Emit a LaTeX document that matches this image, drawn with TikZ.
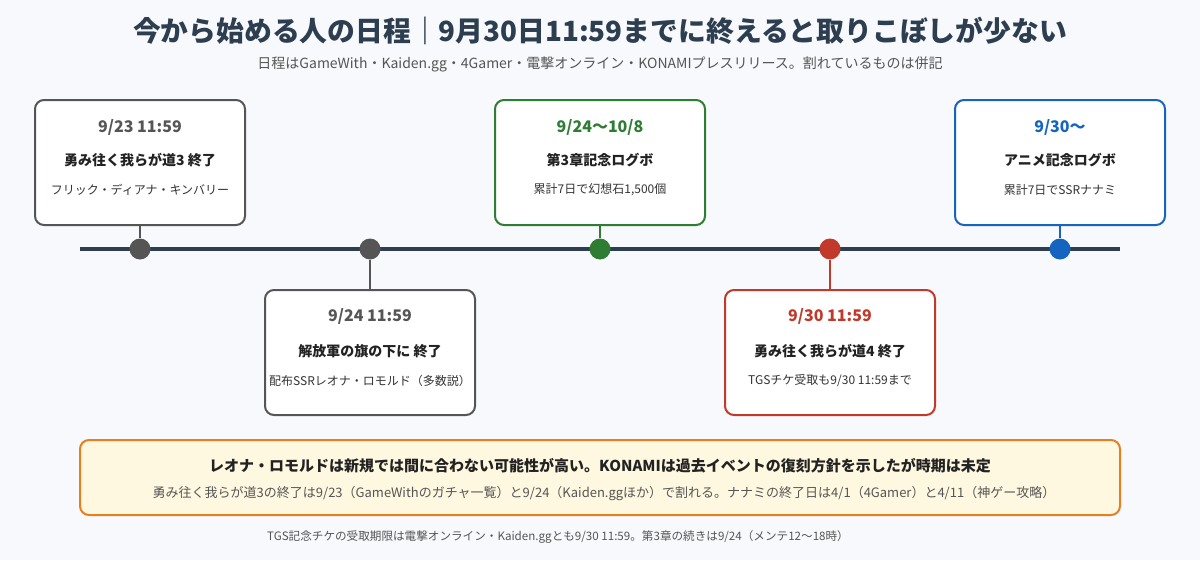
\documentclass[tikz,border=0pt]{standalone}
\usepackage{fontspec}
\setmainfont{Noto Sans CJK JP}
\definecolor{bg}{HTML}{F7F9FC}
\definecolor{navy}{HTML}{2C3E50}
\definecolor{evgray}{HTML}{555555}
\definecolor{evgreen}{HTML}{2E7D32}
\definecolor{evred}{HTML}{C0392B}
\definecolor{evblue}{HTML}{1565C0}
\definecolor{orng}{HTML}{E67E22}
\definecolor{notefill}{HTML}{FFF8E1}
\definecolor{txtdark}{HTML}{222222}
\definecolor{txtmid}{HTML}{333333}
\definecolor{txtgray}{HTML}{555555}
\tikzset{
  fs/.style={font=\fontsize{#1}{#1}\selectfont},
  evbox/.style={draw=#1, line width=2pt, rounded corners=9pt, fill=white, minimum width=210pt, minimum height=125pt, inner sep=0pt},
  datet/.style={font=\fontsize{16}{18}\selectfont\bfseries, text=#1, inner sep=0pt},
  ttlt/.style={font=\fontsize{14}{16}\selectfont\bfseries, text=txtdark, inner sep=0pt},
  desct/.style={font=\fontsize{12}{14}\selectfont, text=txtmid, inner sep=0pt},
  evdot/.style={circle, fill=#1, minimum size=21pt, inner sep=0pt},
  conn/.style={draw=#1, line width=2pt},
}
\begin{document}
\begin{tikzpicture}[x=1pt,y=-1pt]
\fill[bg] (0,0) rectangle (1200,560);
\useasboundingbox (0,0) rectangle (1200,560);
% title
\node[font=\fontsize{27.8}{30}\selectfont\bfseries, text=navy, inner sep=0pt] (title) at (600,31) {今から始める人の日程｜9月30日11:59までに終えると取りこぼしが少ない};
\node[fs=14, text=txtgray, inner sep=0pt] (subtitle) at (600,64) {日程はGameWith・Kaiden.gg・4Gamer・電撃オンライン・KONAMIプレスリリース。割れているものは併記};
% timeline
\coordinate (tlL) at (80,249);
\coordinate (tlR) at (1120,249);
\draw[navy, line width=4pt] (tlL) -- (tlR);
% boxes
\node[evbox=evgray] (b1) at (140,162.5) {};
\node[evbox=evgray] (b2) at (370,352.5) {};
\node[evbox=evgreen] (b3) at (600,162.5) {};
\node[evbox=evred] (b4) at (830,352.5) {};
\node[evbox=evblue] (b5) at (1060,162.5) {};
% dots
\node[evdot=evgray] (d1) at (140,249) {};
\node[evdot=evgray] (d2) at (370,249) {};
\node[evdot=evgreen] (d3) at (600,249) {};
\node[evdot=evred] (d4) at (830,249) {};
\node[evdot=evblue] (d5) at (1060,249) {};
% connectors
\draw[conn=evgray] (b1.south) -- (d1.north);
\draw[conn=evgray] (d2.south) -- (b2.north);
\draw[conn=evgreen] (b3.south) -- (d3.north);
\draw[conn=evred] (d4.south) -- (b4.north);
\draw[conn=evblue] (b5.south) -- (d5.north);
% box texts
\node[datet=evgray] (b1d) at (140,127) {9/23 11:59};
\node[ttlt] (b1t) at (140,160) {勇み往く我らが道3 終了};
\node[desct] (b1s) at (140,190) {フリック・ディアナ・キンバリー};
\node[datet=evgray] (b2d) at (370,316) {9/24 11:59};
\node[ttlt] (b2t) at (370,351) {解放軍の旗の下に 終了};
\node[desct] (b2s) at (370,381) {配布SSRレオナ・ロモルド（多数説）};
\node[datet=evgreen] (b3d) at (600,127) {9/24〜10/8};
\node[ttlt] (b3t) at (600,160) {第3章記念ログボ};
\node[desct] (b3s) at (600,190) {累計7日で幻想石1,500個};
\node[datet=evred] (b4d) at (830,316) {9/30 11:59};
\node[ttlt] (b4t) at (830,351) {勇み往く我らが道4 終了};
\node[desct] (b4s) at (830,381) {TGSチケ受取も9/30 11:59まで};
\node[datet=evblue] (b5d) at (1060,127) {9/30〜};
\node[ttlt] (b5t) at (1060,160) {アニメ記念ログボ};
\node[desct] (b5s) at (1060,190) {累計7日でSSRナナミ};
% note
\node[draw=orng, fill=notefill, line width=2pt, rounded corners=9pt, minimum width=1040pt, minimum height=75pt, inner sep=0pt] (note) at (600,477.5) {};
\node[font=\fontsize{15}{17}\selectfont\bfseries, text=txtdark, inner sep=0pt] (n1) at (600,466) {レオナ・ロモルドは新規では間に合わない可能性が高い。KONAMIは過去イベントの復刻方針を示したが時期は未定};
\node[fs=13, text=txtgray, inner sep=0pt] (n2) at (604,494) {勇み往く我らが道3の終了は9/23（GameWithのガチャ一覧）と9/24（Kaiden.ggほか）で割れる。ナナミの終了日は4/1（4Gamer）と4/11（神ゲー攻略）};
% footer
\node[fs=11.6, text=txtgray, inner sep=0pt] (foot) at (558,537) {TGS記念チケの受取期限は電撃オンライン・Kaiden.ggとも9/30 11:59。第3章の続きは9/24（メンテ12〜18時）};
\end{tikzpicture}
\end{document}
